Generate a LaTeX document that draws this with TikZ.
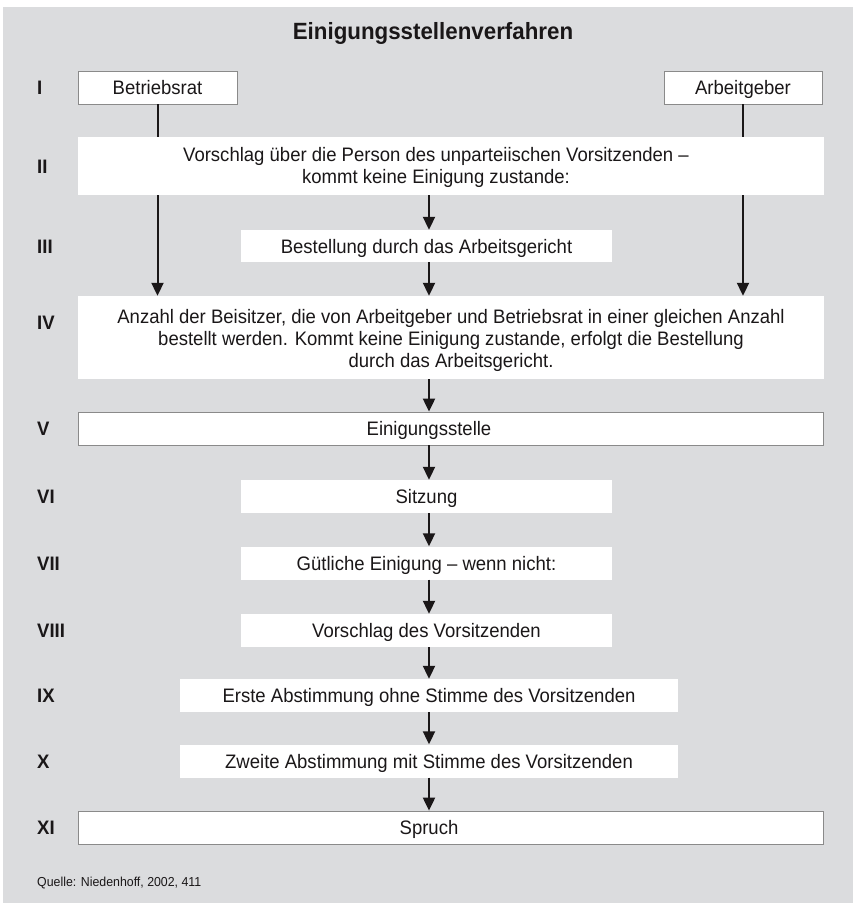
\documentclass[tikz,border=0pt]{standalone}
\usepackage{fontspec}
\setmainfont{Liberation Sans}[FakeStretch=0.95]
\usepackage{tikz}
\usetikzlibrary{arrows.meta}
\usepackage{xcolor}
\definecolor{esvGrau}{HTML}{DBDCDE}
\definecolor{esvText}{HTML}{1A1718}
\definecolor{esvRahmen}{HTML}{8A8A8A}

\begin{document}
\begin{tikzpicture}[x=1pt, y=-1pt, font=\fontsize{19.5}{22}\selectfont,
    kasten/.style={fill=white, inner sep=0pt, align=center, text=esvText, minimum height=33,
                   text height=16, text depth=2},
    rahmen/.style={kasten, draw=esvRahmen, line width=0.8},
    nur/.style={inner sep=0pt, align=center, text=esvText, text height=16, text depth=2},
    mehr/.style={inner sep=0pt, align=center, text=esvText},
    nummer/.style={anchor=west, inner sep=0pt, font=\bfseries\fontsize{19.5}{22}\selectfont, text=esvText,
                   text height=16, text depth=2},
    linie/.style={line width=2, draw=esvText},
    pfeil/.style={linie, -{Triangle[length=13pt, width=12pt]}}]
        % Flaeche, Masse in Pixel des Originals
        \useasboundingbox (0,0) rectangle (853,903);
        \fill[esvGrau] (3,7) rectangle (853,903);
        \node[mehr, font=\bfseries\fontsize{23.5}{28}\selectfont] (titel) at (433,33) {Einigungsstellenverfahren};
        % Zeile I
        \node[rahmen, minimum width=159] (betr) at (157.5,87.5) {Betriebsrat};
        \node[rahmen, minimum width=158] (arbg) at (743,87.5) {Arbeitgeber};
        % Kaesten der Mittelspalte
        \node[kasten, minimum width=746, minimum height=58] (vorschlag) at (451,166) {};
        \node[mehr] (vorschlagT) at (436,167) {Vorschlag über die Person des unparteiischen Vorsitzenden --\\kommt keine Einigung zustande:};
        \node[kasten, minimum width=371, minimum height=32] (gericht) at (426.5,246) {Bestellung durch das Arbeitsgericht};
        \node[kasten, minimum width=746, minimum height=83] (beisitzer) at (451,337.5) {};
        \node[mehr] (beisitzerT) at (451,340) {Anzahl der Beisitzer, die von Arbeitgeber und Betriebsrat in einer gleichen Anzahl\\bestellt werden. Kommt keine Einigung zustande, erfolgt die Bestellung\\durch das Arbeitsgericht.};
        \node[rahmen, minimum width=745] (stelle) at (450.5,428.5) {};
        \node[nur] (stelleT) at (429,428.5) {Einigungsstelle};
        \node[kasten, minimum width=371] (sitzung) at (426.5,496.5) {Sitzung};
        \node[kasten, minimum width=371] (guetlich) at (426.5,563) {Gütliche Einigung -- wenn nicht:};
        \node[kasten, minimum width=371] (vorsitz) at (426.5,630.5) {Vorschlag des Vorsitzenden};
        \node[kasten, minimum width=498] (erste) at (429,695.5) {Erste Abstimmung ohne Stimme des Vorsitzenden};
        \node[kasten, minimum width=498] (zweite) at (429,761) {Zweite Abstimmung mit Stimme des Vorsitzenden};
        \node[rahmen, minimum width=745] (spruch) at (450.5,827.5) {};
        \node[nur] (spruchT) at (429,827.5) {Spruch};
        % Nummern links
        \foreach \n/\y in {I/87.5, II/166, III/246, IV/322, V/428.5, VI/496.5,
                           VII/563, VIII/630.5, IX/695.5, X/761, XI/827.5} {
          \node[nummer] (nr\n) at (37,\y) {\n};
        }
        % Pfeile
        \coordinate (achse) at (429,0);
        \foreach \a/\b in {vorschlag/gericht, gericht/beisitzer, beisitzer/stelle,
                           stelle/sitzung, sitzung/guetlich, guetlich/vorsitz,
                           vorsitz/erste, erste/zweite, zweite/spruch} {
          \draw[pfeil] (achse |- \a.south) -- (achse |- \b.north);
        }
        \foreach \s in {betr, arbg} {
          \draw[linie] (\s.south) -- (\s |- vorschlag.north);
          \draw[pfeil] (\s |- vorschlag.south) -- (\s |- beisitzer.north);
        }
        \node[anchor=west, inner sep=0pt, text=esvText, font=\fontsize{13}{16}\selectfont] (quelle) at (37,883) {Quelle: Niedenhoff, 2002, 411};
      \end{tikzpicture}
\end{document}
